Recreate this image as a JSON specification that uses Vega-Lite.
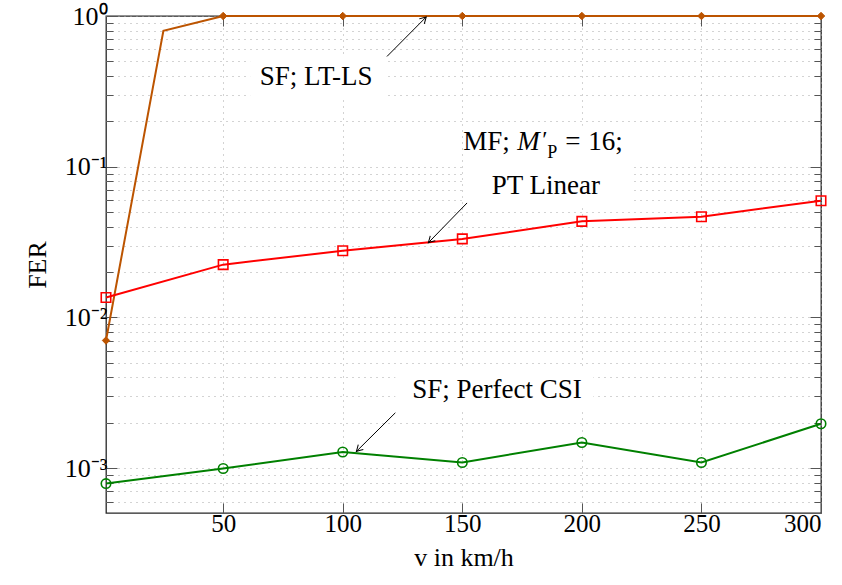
{
  "$schema": "https://vega.github.io/schema/vega-lite/v6.json",
  "width": 715,
  "height": 497,
  "autosize": {"type": "none"},
  "padding": {"left": 106, "top": 16, "right": 21, "bottom": 72},
  "background": "white",
  "config": {"view": {"stroke": "#262626", "strokeWidth": 1.3}, "font": "Liberation Serif, serif"},
  "datasets": {
    "fer": [
      {"series": "SF; LT-LS", "v": 1, "fer": 0.00703},
      {"series": "SF; LT-LS", "v": 25, "fer": 0.798},
      {"series": "SF; LT-LS", "v": 50, "fer": 1},
      {"series": "SF; LT-LS", "v": 100, "fer": 1},
      {"series": "SF; LT-LS", "v": 150, "fer": 1},
      {"series": "SF; LT-LS", "v": 200, "fer": 1},
      {"series": "SF; LT-LS", "v": 250, "fer": 1},
      {"series": "SF; LT-LS", "v": 300, "fer": 1},
      {"series": "MF PT Linear", "v": 1, "fer": 0.01355},
      {"series": "MF PT Linear", "v": 50, "fer": 0.0224},
      {"series": "MF PT Linear", "v": 100, "fer": 0.0277},
      {"series": "MF PT Linear", "v": 150, "fer": 0.0332},
      {"series": "MF PT Linear", "v": 200, "fer": 0.0434},
      {"series": "MF PT Linear", "v": 250, "fer": 0.0466},
      {"series": "MF PT Linear", "v": 300, "fer": 0.0595},
      {"series": "SF; Perfect CSI", "v": 1, "fer": 0.00079},
      {"series": "SF; Perfect CSI", "v": 50, "fer": 0.000995},
      {"series": "SF; Perfect CSI", "v": 100, "fer": 0.00128},
      {"series": "SF; Perfect CSI", "v": 150, "fer": 0.00109},
      {"series": "SF; Perfect CSI", "v": 200, "fer": 0.00148},
      {"series": "SF; Perfect CSI", "v": 250, "fer": 0.00109},
      {"series": "SF; Perfect CSI", "v": 300, "fer": 0.00197}
    ]
  },
  "resolve": {"axis": {"x": "independent", "y": "independent"}},
  "layer": [
    {
      "data": {"values": [
        {"x1": 61.3, "x2": 118.6, "y1": 0.5537, "y2": 0.2785},
        {"x1": 150.4, "x2": 220.7, "y1": 0.1872, "y2": 0.0551},
        {"x1": 122, "x2": 204.8, "y1": 0.004645, "y2": 0.00237}
      ]},
      "mark": {"type": "rect", "fill": "white"},
      "encoding": {
        "x": {"field": "x1", "type": "quantitative", "scale": {"domain": [1, 300], "nice": false, "zero": false}, "axis": null},
        "x2": {"field": "x2"},
        "y": {"field": "y1", "type": "quantitative", "scale": {"type": "log", "domain": [0.000504, 1], "nice": false}, "axis": null},
        "y2": {"field": "y2"}
      }
    },
    {
      "data": {"name": "fer"},
      "mark": {"type": "line", "strokeWidth": 2},
      "encoding": {
        "x": {"field": "v", "type": "quantitative", "scale": {"domain": [1, 300], "nice": false, "zero": false},
          "axis": {"orient": "bottom", "values": [50, 100, 150, 200, 250, 300], "grid": true, "gridDash": [1, 5], "gridColor": "#a6a6a6", "gridWidth": 1,
            "domain": false, "tickSize": -10, "tickColor": "#555", "tickWidth": 1,
            "labelFont": "Liberation Serif, serif", "labelFontSize": 25, "labelColor": "black", "labelPadding": 8,
            "title": "v in km/h", "titleFont": "Liberation Serif, serif", "titleFontSize": 26, "titleFontWeight": "normal", "titleColor": "black", "titlePadding": 8}},
        "y": {"field": "fer", "type": "quantitative", "scale": {"type": "log", "domain": [0.000504, 1], "nice": false},
          "axis": {"orient": "left",
            "values": [0.0006, 0.0007, 0.0008, 0.0009, 0.001, 0.002, 0.003, 0.004, 0.005, 0.006, 0.007, 0.008, 0.009, 0.01, 0.02, 0.03, 0.04, 0.05, 0.06, 0.07, 0.08, 0.09, 0.1, 0.2, 0.3, 0.4, 0.5, 0.6, 0.7, 0.8, 0.9, 1],
            "labelExpr": "datum.value == 1 ? '10⁰' : datum.value == 0.1 ? '10⁻¹' : datum.value == 0.01 ? '10⁻²' : datum.value == 0.001 ? '10⁻³' : ''",
            "grid": true, "gridDash": [1, 5], "gridColor": "#a6a6a6", "gridWidth": 1,
            "domain": false,
            "tickSize": {"condition": {"test": "indexof([1, 0.1, 0.01, 0.001], datum.value) >= 0", "value": -11}, "value": -7},
            "tickColor": "#555", "tickWidth": 1,
            "labelFont": "Liberation Serif, serif", "labelFontSize": 26, "labelColor": "black", "labelPadding": 10,
            "title": "FER", "titleFont": "Liberation Serif, serif", "titleFontSize": 26, "titleFontWeight": "normal", "titleColor": "black", "titlePadding": 14}},
        "color": {"field": "series", "type": "nominal",
          "scale": {"domain": ["SF; LT-LS", "MF PT Linear", "SF; Perfect CSI"], "range": ["#bc5400", "#ff0000", "#008000"]},
          "legend": null}
      }
    },
    {
      "data": {"name": "fer"},
      "transform": [{"filter": "datum.series == 'SF; LT-LS' && datum.v != 25"}],
      "mark": {"type": "point", "shape": "diamond", "filled": true, "fill": "#bc5400", "stroke": "#bc5400", "strokeWidth": 1, "size": 55, "opacity": 1},
      "encoding": {
        "x": {"field": "v", "type": "quantitative", "scale": {"domain": [1, 300], "nice": false, "zero": false},
          "axis": {"orient": "top", "values": [50, 100, 150, 200, 250, 300], "grid": false, "domain": false, "labels": false, "tickSize": -10, "tickColor": "#555", "title": null}},
        "y": {"field": "fer", "type": "quantitative", "scale": {"type": "log", "domain": [0.000504, 1], "nice": false},
          "axis": {"orient": "right",
            "values": [0.0006, 0.0007, 0.0008, 0.0009, 0.001, 0.002, 0.003, 0.004, 0.005, 0.006, 0.007, 0.008, 0.009, 0.01, 0.02, 0.03, 0.04, 0.05, 0.06, 0.07, 0.08, 0.09, 0.1, 0.2, 0.3, 0.4, 0.5, 0.6, 0.7, 0.8, 0.9, 1],
            "grid": false, "domain": false, "labels": false,
            "tickSize": {"condition": {"test": "indexof([1, 0.1, 0.01, 0.001], datum.value) >= 0", "value": -11}, "value": -7},
            "tickColor": "#555", "title": null}}
      }
    },
    {
      "data": {"name": "fer"},
      "transform": [{"filter": "datum.series == 'MF PT Linear'"}],
      "mark": {"type": "point", "shape": "square", "filled": false, "stroke": "#ff0000", "strokeWidth": 1.6, "size": 90, "opacity": 1},
      "encoding": {
        "x": {"field": "v", "type": "quantitative", "scale": {"domain": [1, 300], "nice": false, "zero": false}, "axis": null},
        "y": {"field": "fer", "type": "quantitative", "scale": {"type": "log", "domain": [0.000504, 1], "nice": false}, "axis": null}
      }
    },
    {
      "data": {"name": "fer"},
      "transform": [{"filter": "datum.series == 'SF; Perfect CSI'"}],
      "mark": {"type": "point", "shape": "circle", "filled": false, "stroke": "#008000", "strokeWidth": 1.6, "size": 90, "opacity": 1},
      "encoding": {
        "x": {"field": "v", "type": "quantitative", "scale": {"domain": [1, 300], "nice": false, "zero": false}, "axis": null},
        "y": {"field": "fer", "type": "quantitative", "scale": {"type": "log", "domain": [0.000504, 1], "nice": false}, "axis": null}
      }
    },
    {
      "data": {"values": [
        {"x1": 118.5, "y1": 0.539, "x2": 134.9, "y2": 0.985},
        {"x1": 152, "y1": 0.0575, "x2": 135.8, "y2": 0.0313},
        {"x1": 122, "y1": 0.00233, "x2": 105.7, "y2": 0.00129}
      ]},
      "mark": {"type": "rule", "stroke": "black", "strokeWidth": 1},
      "encoding": {
        "x": {"field": "x1", "type": "quantitative", "scale": {"domain": [1, 300], "nice": false, "zero": false}, "axis": null},
        "y": {"field": "y1", "type": "quantitative", "scale": {"type": "log", "domain": [0.000504, 1], "nice": false}, "axis": null},
        "x2": {"field": "x2"},
        "y2": {"field": "y2"}
      }
    },
    {
      "data": {"values": [{"x": 134.9, "y": 0.985}]},
      "mark": {"type": "point", "shape": "M-0.8,1.4 Q-0.25,0.45 0,0 Q0.25,0.45 0.8,1.4", "filled": false, "stroke": "black", "strokeWidth": 1, "size": 80, "angle": 45, "opacity": 1},
      "encoding": {
        "x": {"field": "x", "type": "quantitative", "scale": {"domain": [1, 300], "nice": false, "zero": false}, "axis": null},
        "y": {"field": "y", "type": "quantitative", "scale": {"type": "log", "domain": [0.000504, 1], "nice": false}, "axis": null}
      }
    },
    {
      "data": {"values": [{"x": 135.8, "y": 0.0313}, {"x": 105.7, "y": 0.00129}]},
      "mark": {"type": "point", "shape": "M-0.8,1.4 Q-0.25,0.45 0,0 Q0.25,0.45 0.8,1.4", "filled": false, "stroke": "black", "strokeWidth": 1, "size": 80, "angle": 225, "opacity": 1},
      "encoding": {
        "x": {"field": "x", "type": "quantitative", "scale": {"domain": [1, 300], "nice": false, "zero": false}, "axis": null},
        "y": {"field": "y", "type": "quantitative", "scale": {"type": "log", "domain": [0.000504, 1], "nice": false}, "axis": null}
      }
    },
    {
      "data": {"values": [
        {"x": 88.9, "y": 0.35, "text": "SF; LT-LS"},
        {"x": 184.9, "y": 0.0662, "text": "PT Linear"},
        {"x": 164.5, "y": 0.00292, "text": "SF; Perfect CSI"}
      ]},
      "mark": {"type": "text", "font": "Liberation Serif, serif", "fontSize": 27, "align": "center", "baseline": "alphabetic", "color": "black"},
      "encoding": {
        "x": {"field": "x", "type": "quantitative", "scale": {"domain": [1, 300], "nice": false, "zero": false}, "axis": null},
        "y": {"field": "y", "type": "quantitative", "scale": {"type": "log", "domain": [0.000504, 1], "nice": false}, "axis": null},
        "text": {"field": "text"}
      }
    },
    {
      "data": {"values": [{"x": 150.4, "y": 0.1297, "text": "MF;"}]},
      "mark": {"type": "text", "font": "Liberation Serif, serif", "fontSize": 27, "align": "left", "baseline": "alphabetic", "color": "black"},
      "encoding": {
        "x": {"field": "x", "type": "quantitative", "scale": {"domain": [1, 300], "nice": false, "zero": false}, "axis": null},
        "y": {"field": "y", "type": "quantitative", "scale": {"type": "log", "domain": [0.000504, 1], "nice": false}, "axis": null},
        "text": {"field": "text"}
      }
    },
    {
      "data": {"values": [{"x": 150.4, "y": 0.1297, "text": "M"}]},
      "mark": {"type": "text", "font": "Liberation Serif, serif", "fontStyle": "italic", "fontSize": 27, "align": "left", "baseline": "alphabetic", "color": "black", "dx": 54},
      "encoding": {
        "x": {"field": "x", "type": "quantitative", "scale": {"domain": [1, 300], "nice": false, "zero": false}, "axis": null},
        "y": {"field": "y", "type": "quantitative", "scale": {"type": "log", "domain": [0.000504, 1], "nice": false}, "axis": null},
        "text": {"field": "text"}
      }
    },
    {
      "data": {"values": [{"x": 150.4, "y": 0.1297, "text": "′"}]},
      "mark": {"type": "text", "font": "Liberation Serif, serif", "fontSize": 24, "align": "left", "baseline": "alphabetic", "color": "black", "dx": 79, "dy": -3},
      "encoding": {
        "x": {"field": "x", "type": "quantitative", "scale": {"domain": [1, 300], "nice": false, "zero": false}, "axis": null},
        "y": {"field": "y", "type": "quantitative", "scale": {"type": "log", "domain": [0.000504, 1], "nice": false}, "axis": null},
        "text": {"field": "text"}
      }
    },
    {
      "data": {"values": [{"x": 150.4, "y": 0.1297, "text": "P"}]},
      "mark": {"type": "text", "font": "Liberation Serif, serif", "fontSize": 18, "align": "left", "baseline": "alphabetic", "color": "black", "dx": 84, "dy": 8},
      "encoding": {
        "x": {"field": "x", "type": "quantitative", "scale": {"domain": [1, 300], "nice": false, "zero": false}, "axis": null},
        "y": {"field": "y", "type": "quantitative", "scale": {"type": "log", "domain": [0.000504, 1], "nice": false}, "axis": null},
        "text": {"field": "text"}
      }
    },
    {
      "data": {"values": [{"x": 150.4, "y": 0.1297, "text": "="}]},
      "mark": {"type": "text", "font": "Liberation Serif, serif", "fontSize": 27, "align": "left", "baseline": "alphabetic", "color": "black", "dx": 102},
      "encoding": {
        "x": {"field": "x", "type": "quantitative", "scale": {"domain": [1, 300], "nice": false, "zero": false}, "axis": null},
        "y": {"field": "y", "type": "quantitative", "scale": {"type": "log", "domain": [0.000504, 1], "nice": false}, "axis": null},
        "text": {"field": "text"}
      }
    },
    {
      "data": {"values": [{"x": 150.4, "y": 0.1297, "text": "16;"}]},
      "mark": {"type": "text", "font": "Liberation Serif, serif", "fontSize": 27, "align": "left", "baseline": "alphabetic", "color": "black", "dx": 125},
      "encoding": {
        "x": {"field": "x", "type": "quantitative", "scale": {"domain": [1, 300], "nice": false, "zero": false}, "axis": null},
        "y": {"field": "y", "type": "quantitative", "scale": {"type": "log", "domain": [0.000504, 1], "nice": false}, "axis": null},
        "text": {"field": "text"}
      }
    }
  ]
}
